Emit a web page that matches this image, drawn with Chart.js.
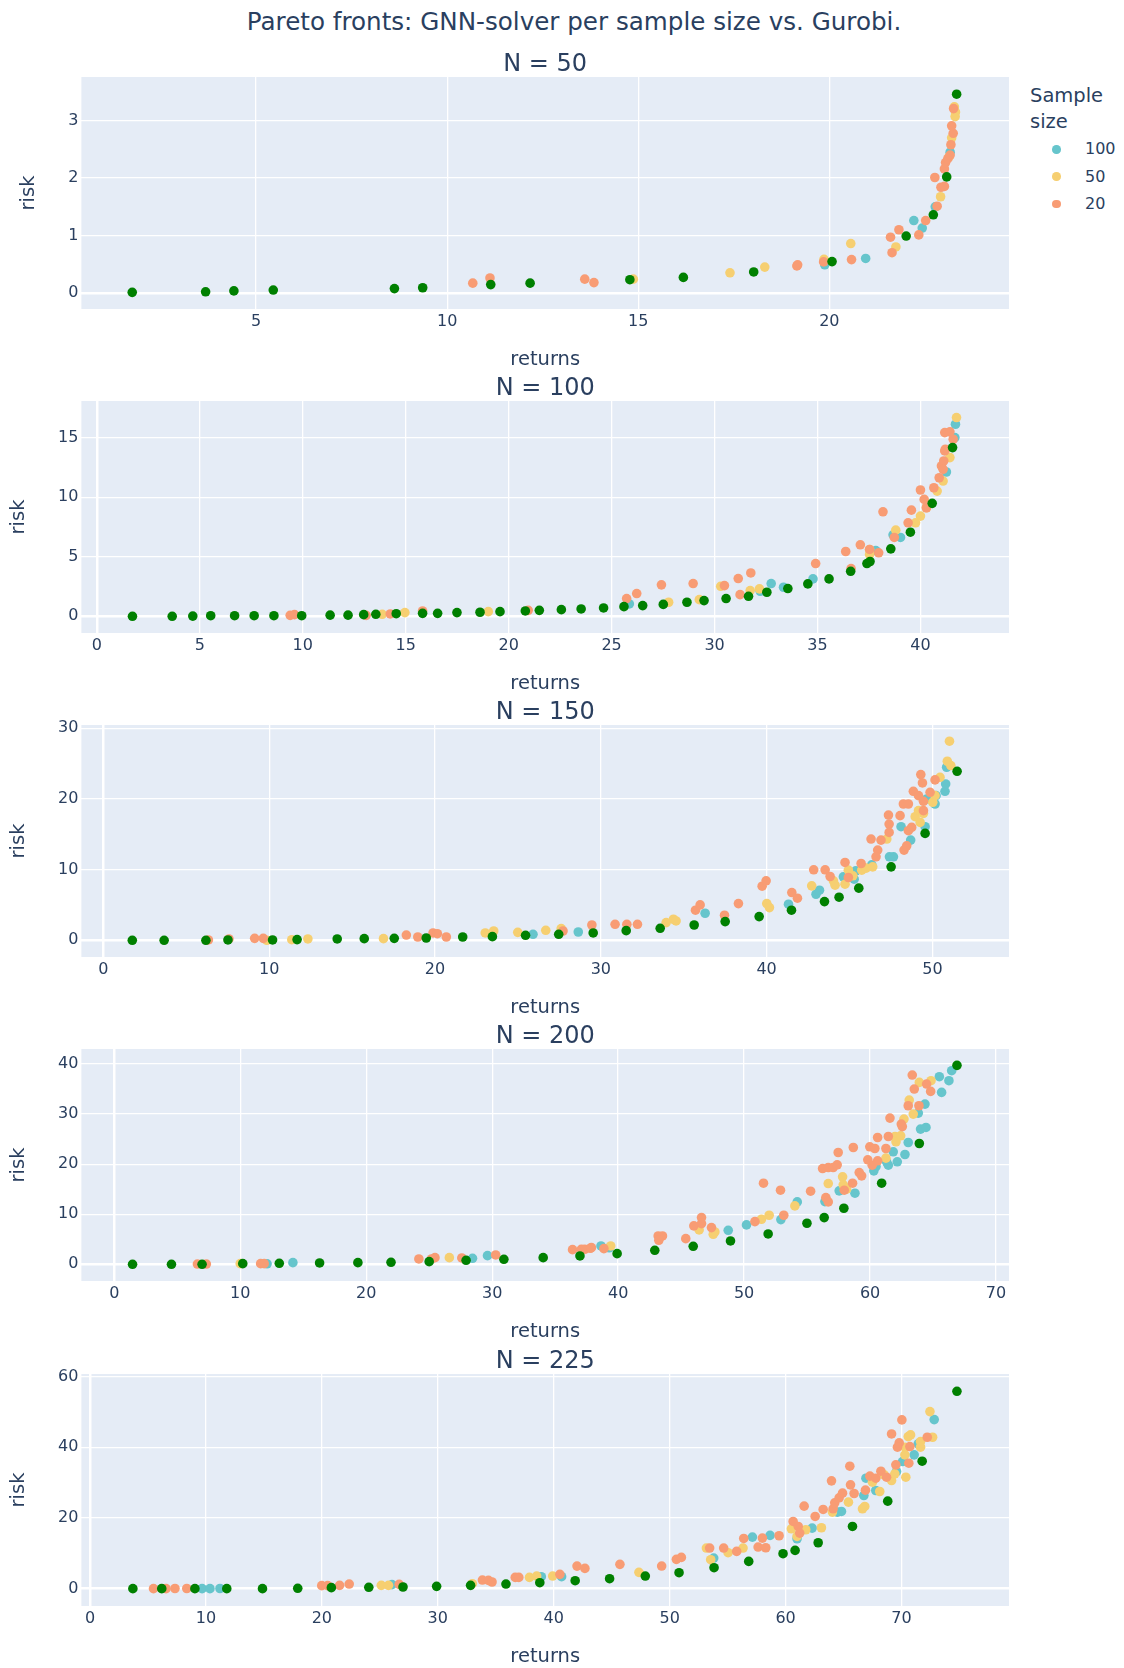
<!DOCTYPE html>
<html><head><meta charset="utf-8">
<script src="https://cdn.jsdelivr.net/npm/chart.js@4/dist/chart.umd.min.js"></script>
<style>
body{margin:0;background:#fff;width:1124px;height:1668px;position:relative;overflow:hidden;font-family:"DejaVu Sans",sans-serif;color:#2a3f5f}
canvas{position:absolute;left:0}
#mainTitle{position:absolute;left:74px;width:1000px;top:7.5px;line-height:28px;font-size:24.6px;text-align:center;white-space:nowrap}
#legend{position:absolute;left:1030px;top:83px}
#legend .lt{font-size:19.5px;line-height:25.7px}
#legend .it{position:absolute;left:26px;font-size:16px;line-height:20px;white-space:nowrap}
#legend .it i{position:absolute;left:-33px;top:5.75px;width:8.5px;height:8.5px;border-radius:50%}
</style></head>
<body>
<div id="mainTitle">Pareto fronts: GNN-solver per sample size vs. Gurobi.</div>
<div id="legend"><div class="lt">Sample<br>size</div></div>
<canvas id="c0" width="1124" height="348" style="top:27px"></canvas>
<canvas id="c1" width="1124" height="348" style="top:351px"></canvas>
<canvas id="c2" width="1124" height="348" style="top:675px"></canvas>
<canvas id="c3" width="1124" height="348" style="top:999px"></canvas>
<canvas id="c4" width="1124" height="348" style="top:1324px"></canvas>
<script>
// ---- series names / legend ----
const seriesNames = ["100", "50", "20"];
const panelTitles = ["N = 50", "N = 100", "N = 150", "N = 200", "N = 225"];

// ---- tick values ----
const xTicks50 = [5, 10, 15, 20];            const yTicks50 = [0, 1, 2, 3];
const xTicks100 = [0, 5, 10, 15, 20, 25, 30, 35, 40]; const yTicks100 = [0, 5, 10, 15];
const xTicks150 = [0, 10, 20, 30, 40, 50];   const yTicks150 = [0, 10, 20, 30];
const xTicks200 = [0, 10, 20, 30, 40, 50, 60, 70]; const yTicks200 = [0, 10, 20, 30, 40];
const xTicks225 = [0, 10, 20, 30, 40, 50, 60, 70]; const yTicks225 = [0, 20, 40, 60];

// ---- N = 50 ----
const n50_gurobi = [[1.76,0.01],[3.68,0.02],[4.42,0.035],[5.45,0.05],[8.62,0.075],[9.36,0.09],[11.14,0.145],[12.17,0.17],[14.78,0.23],[16.18,0.27],[18.02,0.365],[20.07,0.545],[22.01,0.99],[22.72,1.36],[23.07,2.02],[23.33,3.46]];
const n50_s20 = [[10.67,0.17],[11.12,0.26],[13.6,0.24],[13.84,0.18],[19.15,0.47],[19.17,0.49],[19.85,0.54],[20.58,0.58],[21.6,0.97],[21.64,0.7],[21.82,1.1],[22.34,1.01],[22.52,1.26],[22.82,1.51],[22.76,2.01],[22.92,1.84],[23.01,1.855],[23.01,2.16],[23.04,2.27],[23.1,2.34],[23.16,2.4],[23.18,2.58],[23.24,2.78],[23.2,2.91],[23.25,3.21]];
const n50_s50 = [[14.87,0.24],[17.4,0.35],[18.31,0.45],[19.86,0.585],[20.56,0.86],[21.74,0.8],[22.91,1.675],[23.13,2.37],[23.2,2.7],[23.29,3.07],[23.3,3.15],[23.27,3.24]];
const n50_s100 = [[19.88,0.49],[20.95,0.6],[22.21,1.26],[22.43,1.13],[22.77,1.5],[23.16,2.45]];

// ---- N = 100 ----
const n100_gurobi = [[1.73,0],[3.66,0],[4.66,0.02],[5.53,0.05],[6.69,0.05],[7.64,0.05],[8.6,0.05],[9.95,0.05],[11.33,0.1],[12.2,0.1],[12.96,0.14],[13.55,0.17],[14.54,0.22],[15.82,0.25],[16.55,0.25],[17.49,0.31],[18.61,0.34],[19.58,0.39],[20.81,0.45],[21.49,0.5],[22.56,0.56],[23.52,0.62],[24.61,0.7],[25.6,0.81],[26.51,0.9],[27.51,1.0],[28.66,1.18],[29.49,1.32],[30.56,1.49],[31.65,1.68],[32.54,2.02],[33.56,2.33],[34.53,2.72],[35.56,3.14],[36.61,3.78],[37.4,4.43],[37.55,4.6],[38.56,5.66],[39.51,7.06],[40.57,9.48],[41.56,14.16]];
const n100_s20 = [[9.39,0.08],[9.6,0.14],[13.08,0.08],[14.25,0.2],[15.82,0.45],[20.95,0.5],[25.73,1.49],[26.22,1.91],[27.42,2.64],[28.96,2.75],[30.48,2.58],[31.15,3.17],[31.76,3.64],[31.24,1.82],[34.91,4.43],[36.37,5.44],[37.08,6.0],[36.63,4.01],[37.53,5.61],[37.97,5.33],[38.18,8.77],[38.73,6.62],[39.4,7.85],[39.56,8.91],[40.0,10.6],[40.18,9.81],[40.29,9.11],[40.65,10.79],[40.91,11.63],[41.02,12.62],[41.13,13.04],[41.21,14.02],[41.18,15.42],[41.43,15.48],[41.59,14.86],[41.18,13.88],[41.1,12.34]];
const n100_s50 = [[13.86,0.17],[14.96,0.31],[19.01,0.39],[27.77,1.18],[29.26,1.4],[30.3,2.52],[31.73,2.16],[32.18,2.3],[37.53,5.6],[37.53,5.19],[38.8,7.23],[39.76,7.85],[40.0,8.41],[40.29,9.11],[40.81,10.51],[41.1,11.35],[41.43,13.32],[41.75,16.68]];
const n100_s100 = [[25.86,1.04],[32.22,2.1],[32.75,2.75],[33.35,2.44],[34.78,3.14],[37.83,5.52],[38.67,6.84],[39.03,6.62],[41.26,12.11],[41.7,16.12],[41.67,15.0]];

// ---- N = 150 ----
const n150_gurobi = [[1.74,0],[3.66,0],[6.18,0],[7.51,0.05],[10.2,0.05],[11.68,0.1],[14.1,0.19],[15.73,0.24],[17.54,0.28],[19.47,0.33],[21.67,0.47],[23.46,0.52],[25.46,0.71],[27.46,0.85],[29.54,1.04],[31.53,1.37],[33.58,1.7],[35.63,2.17],[37.5,2.65],[39.55,3.36],[41.5,4.26],[43.49,5.48],[44.37,6.1],[45.56,7.38],[47.51,10.4],[49.56,15.13],[51.49,23.92]];
const n150_s20 = [[6.33,0.05],[7.57,0.19],[9.12,0.28],[9.64,0.28],[18.27,0.75],[18.96,0.47],[19.88,1.04],[20.14,0.94],[20.68,0.47],[27.72,1.32],[29.46,2.17],[30.86,2.27],[31.57,2.27],[32.21,2.27],[35.71,4.26],[35.99,5.01],[37.46,3.55],[38.3,5.2],[39.73,7.66],[39.97,8.42],[41.52,6.76],[41.86,5.96],[42.84,9.98],[43.53,9.98],[43.83,9.03],[44.73,11.02],[44.93,8.89],[45.7,10.87],[46.3,14.33],[46.7,12.77],[46.6,11.82],[46.9,14.18],[47.35,17.73],[47.39,16.45],[47.39,15.27],[48.05,17.64],[48.25,19.29],[48.55,19.29],[48.29,12.77],[48.45,13.38],[48.85,21.09],[49.16,20.47],[49.3,23.45],[49.4,22.27],[49.46,19.67],[49.46,18.35],[49.86,20.95],[50.16,22.7],[48.75,15.98],[48.55,15.51]];
const n150_s50 = [[9.86,0],[11.36,0.09],[12.33,0.19],[16.89,0.24],[23.03,1.04],[23.54,1.32],[24.99,1.13],[26.68,1.42],[27.61,1.65],[33.94,2.51],[34.38,2.98],[34.54,2.74],[40.01,5.2],[40.17,4.63],[42.72,7.71],[44.03,8.42],[44.13,7.8],[44.73,7.94],[44.93,9.93],[45.2,9.13],[45.74,9.93],[46.0,10.21],[46.4,10.4],[47.25,14.33],[48.96,17.49],[49.26,16.69],[49.16,18.35],[49.46,17.97],[50.02,19.53],[50.16,20.47],[50.46,23.07],[50.9,25.34],[51.03,28.18],[51.11,24.73]];
const n150_s100 = [[25.91,0.85],[28.64,1.18],[36.29,3.83],[41.32,5.11],[42.98,6.52],[43.19,7.09],[44.63,8.98],[45.28,8.65],[45.38,9.83],[46.34,10.69],[47.41,11.82],[47.65,11.82],[48.11,16.08],[48.69,14.18],[49.56,16.08],[49.66,20.0],[50.16,19.29],[50.22,20.47],[50.76,21.09],[50.8,22.13],[50.86,24.49]];

// ---- N = 200 ----
const n200_gurobi = [[1.45,0],[4.54,0],[6.97,0],[10.2,0.13],[13.1,0.2],[16.3,0.27],[19.34,0.33],[21.97,0.4],[25.0,0.53],[27.93,0.8],[30.93,1.0],[34.05,1.33],[36.97,1.67],[39.92,2.13],[42.91,2.8],[45.96,3.6],[48.92,4.67],[51.91,6.07],[54.99,8.2],[56.36,9.33],[57.92,11.2],[60.92,16.2],[63.91,24.13],[66.9,39.73]];
const n200_s20 = [[6.6,0.05],[7.31,0.05],[11.62,0.13],[11.9,0.13],[24.18,1.07],[25.46,1.33],[25.18,1.07],[27.59,1.27],[30.28,1.87],[36.38,2.93],[37.08,3.0],[37.35,3.0],[37.79,3.2],[37.88,3.33],[38.87,3.13],[43.18,5.67],[43.52,5.67],[43.23,4.8],[45.37,5.13],[46.01,7.67],[46.62,9.33],[46.62,8.13],[47.41,7.33],[50.86,8.53],[51.54,16.2],[52.89,14.8],[53.15,9.8],[55.28,14.6],[56.23,19.13],[56.68,19.33],[57.07,19.33],[57.39,19.87],[57.47,22.33],[56.49,13.33],[56.68,12.47],[57.95,14.8],[58.61,16.2],[59.14,18.33],[59.33,17.67],[58.67,23.33],[59.82,20.87],[59.98,23.47],[60.38,23.13],[60.17,19.8],[60.6,25.33],[60.6,20.67],[61.26,23.13],[61.45,25.53],[61.58,29.2],[62.48,28.0],[62.56,27.5],[63.03,31.67],[63.88,31.67],[63.51,35.0],[63.35,37.8],[64.49,36.0],[64.81,34.53]];
const n200_s50 = [[10.0,0.13],[26.6,1.33],[39.41,3.67],[46.43,6.87],[47.55,6.0],[47.68,6.47],[51.38,9.0],[51.99,9.8],[54.03,11.67],[56.68,16.13],[57.82,17.47],[57.87,15.87],[58.14,15.0],[61.26,21.2],[61.98,25.53],[62.06,24.47],[62.43,25.67],[62.69,29.0],[63.11,32.8],[63.43,30.0],[63.91,36.33],[64.84,36.67]];
const n200_s100 = [[12.13,0.1],[14.18,0.33],[28.44,1.2],[29.63,1.73],[38.64,3.67],[39.29,3.3],[48.74,6.8],[50.19,7.87],[52.92,8.93],[54.22,12.47],[56.42,12.53],[57.55,14.67],[58.8,14.2],[60.3,18.67],[60.47,19.53],[61.31,20.47],[61.45,19.8],[61.84,22.47],[62.16,20.47],[62.77,21.93],[63.03,24.33],[63.83,30.2],[64.36,32.0],[64.01,27.0],[64.44,27.33],[65.5,37.47],[66.26,36.67],[65.68,34.33],[66.48,38.67]];

// ---- N = 225 ----
const n225_gurobi = [[3.7,0],[6.19,0],[9.05,0],[11.8,0],[14.88,0],[17.92,0.1],[20.82,0.28],[24.05,0.38],[27.0,0.47],[29.9,0.66],[32.83,0.94],[35.88,1.31],[38.8,1.69],[41.85,2.25],[44.82,2.82],[47.9,3.57],[50.81,4.52],[53.83,5.93],[56.82,7.71],[59.78,9.88],[60.82,10.82],[62.81,12.98],[65.77,17.59],[68.81,24.74],[71.78,36.03],[74.78,55.79]];
const n225_s20 = [[5.48,0],[6.56,0],[7.33,0.05],[8.35,0.05],[19.99,0.85],[20.5,0.85],[21.53,0.94],[22.36,1.31],[26.67,1.22],[33.85,2.44],[34.37,2.35],[34.68,1.88],[36.68,3.19],[36.99,3.19],[40.53,4.04],[42.01,6.38],[42.69,5.73],[45.71,6.87],[49.31,6.4],[50.58,8.28],[51.01,8.84],[53.45,11.48],[54.66,11.48],[55.78,10.54],[56.39,14.2],[57.63,11.76],[58.0,14.3],[58.29,11.57],[59.44,14.96],[60.65,19.0],[61.09,17.59],[61.22,15.71],[61.6,23.33],[62.55,20.41],[63.24,22.39],[63.96,30.48],[64.1,22.58],[64.24,24.27],[64.62,25.68],[64.91,27.0],[65.54,34.62],[65.6,29.35],[65.91,26.9],[66.89,27.85],[67.27,31.8],[67.78,31.23],[68.22,33.21],[68.71,31.51],[69.14,43.74],[69.51,35.0],[69.8,41.2],[69.65,39.98],[70.03,47.7],[70.63,35.47],[70.72,40.17],[72.22,42.8]];
const n225_s50 = [[25.13,0.94],[25.75,0.94],[32.98,1.41],[37.91,3.19],[38.53,3.57],[39.91,3.57],[47.35,4.61],[53.17,11.48],[53.54,8.18],[55.04,10.16],[56.33,11.48],[60.5,16.93],[60.99,14.77],[61.74,16.65],[63.09,17.22],[64.04,21.64],[65.42,24.46],[66.63,22.58],[66.83,23.24],[67.49,30.1],[68.12,27.47],[68.5,32.17],[69.14,30.57],[69.42,32.46],[70.29,37.82],[70.37,31.51],[70.29,39.98],[70.58,42.99],[70.78,43.46],[71.64,41.58],[71.64,39.98],[72.68,42.8],[72.45,50.05]];
const n225_s100 = [[9.67,0],[10.35,0],[11.21,0.05],[26.05,1.13],[38.93,3.38],[40.68,3.38],[53.8,8.65],[57.14,14.58],[58.66,15.05],[60.99,14.11],[62.29,17.12],[64.47,21.64],[64.82,21.82],[66.75,26.34],[66.93,31.23],[67.78,27.75],[69.57,33.11],[70.09,35.94],[71.09,37.82],[71.44,40.92],[72.82,47.79]];

// ---- assemble ----
const COLORS = {s100: "rgb(102,197,204)", s50: "rgb(246,207,113)", s20: "rgb(248,156,116)", gurobi: "#008000"};
const TEXT = "#2a3f5f";
const FONT = "'DejaVu Sans', sans-serif";

const panels = [
  {title: panelTitles[0], s100: n50_s100, s50: n50_s50, s20: n50_s20, g: n50_gurobi, xt: xTicks50, yt: yTicks50, xr: [0.43, 24.7], yr: [-0.28, 3.76], ytPad: 17},
  {title: panelTitles[1], s100: n100_s100, s50: n100_s50, s20: n100_s20, g: n100_gurobi, xt: xTicks100, yt: yTicks100, xr: [-0.75, 44.3], yr: [-1.4, 18.07], ytPad: 7.3},
  {title: panelTitles[2], s100: n150_s100, s50: n150_s50, s20: n150_s20, g: n150_gurobi, xt: xTicks150, yt: yTicks150, xr: [-1.33, 54.62], yr: [-2.36, 30.47], ytPad: 7.3},
  {title: panelTitles[3], s100: n200_s100, s50: n200_s50, s20: n200_s20, g: n200_gurobi, xt: xTicks200, yt: yTicks200, xr: [-2.61, 71.03], yr: [-3.33, 43.0], ytPad: 7.3},
  {title: panelTitles[4], s100: n225_s100, s50: n225_s50, s20: n225_s20, g: n225_gurobi, xt: xTicks225, yt: yTicks225, xr: [-0.74, 79.27], yr: [-4.9, 60.68], ytPad: 7.3}
];

const toPts = arr => arr.map(p => ({x: p[0], y: p[1]}));
const ds = (label, arr, color, order) => ({
  label, data: toPts(arr), backgroundColor: color, borderColor: color,
  borderWidth: 0, pointRadius: 4.8, pointHoverRadius: 4.8, pointBorderWidth: 0, order
});

const bgPlugin = {
  id: "plotBg",
  beforeDraw(chart) {
    const a = chart.chartArea, c = chart.ctx;
    c.save(); c.fillStyle = "#E5ECF6"; c.fillRect(a.left, a.top, a.right - a.left, a.bottom - a.top); c.restore();
  }
};

Chart.defaults.font.family = FONT;
Chart.defaults.color = TEXT;

const gridW = ctx => (ctx.tick && ctx.tick.value === 0) ? 2.5 : 1.3;

panels.forEach((p, i) => {
  new Chart(document.getElementById("c" + i), {
    type: "scatter",
    data: {datasets: [
      ds(seriesNames[0], p.s100, COLORS.s100, 3),
      ds(seriesNames[1], p.s50, COLORS.s50, 2),
      ds(seriesNames[2], p.s20, COLORS.s20, 1),
      ds("Gurobi", p.g, COLORS.gurobi, 0)
    ]},
    options: {
      responsive: false, animation: false, devicePixelRatio: 1,
      layout: {padding: {left: 0, right: 115, top: 0, bottom: 0}},
      plugins: {
        legend: {display: false}, tooltip: {enabled: false},
        title: {display: true, text: p.title, fullSize: false, color: TEXT,
                font: {size: 24, weight: "normal", lineHeight: 1}, padding: {top: 25.5, bottom: 0.5}}
      },
      scales: {
        x: {
          type: "linear", min: p.xr[0], max: p.xr[1],
          afterBuildTicks: s => { s.ticks = p.xt.map(v => ({value: v})); },
          afterFit: s => { s.height = 66; },
          ticks: {color: TEXT, font: {size: 16}, padding: 3.4, maxRotation: 0, autoSkip: false},
          grid: {color: "#ffffff", lineWidth: gridW, drawTicks: false},
          border: {display: false},
          title: {display: true, text: "returns", color: TEXT, font: {size: 19.5}, padding: {top: 3.3, bottom: 3.3}}
        },
        y: {
          type: "linear", min: p.yr[0], max: p.yr[1],
          afterBuildTicks: s => { s.ticks = p.yt.map(v => ({value: v})); },
          afterFit: s => { s.width = 81.4; },
          ticks: {color: TEXT, font: {size: 16}, padding: 3, autoSkip: false},
          grid: {color: "#ffffff", lineWidth: gridW, drawTicks: false},
          border: {display: false},
          title: {display: true, text: "risk", color: TEXT, font: {size: 19.5}, padding: {top: p.ytPad, bottom: p.ytPad}}
        }
      }
    },
    plugins: [bgPlugin]
  });
});

// HTML legend (Gurobi trace is not listed, as in the reference)
const legend = document.getElementById("legend");
[["s100", 0], ["s50", 1], ["s20", 2]].forEach(([k, j]) => {
  const d = document.createElement("div");
  d.className = "it";
  d.style.top = (56.3 + j * 27.35) + "px";
  d.innerHTML = '<i style="background:' + COLORS[k] + '"></i>' + seriesNames[j];
  d.style.left = "55px";
  legend.appendChild(d);
});
</script>
</body></html>
